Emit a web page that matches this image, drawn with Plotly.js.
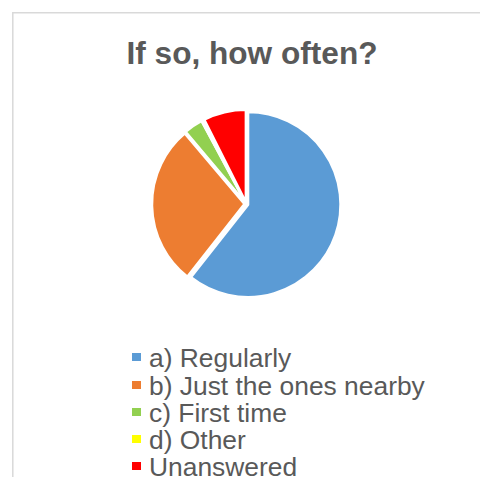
<!DOCTYPE html>
<html><head><meta charset="utf-8">
<script src="https://cdn.plot.ly/plotly-3.0.1.min.js"></script>
<style>html,body{margin:0;padding:0;background:#fff;overflow:hidden}#chart{width:480px;height:477px}</style>
</head><body><div id="chart"></div>
<script>
const categories = ['a) Regularly', 'b) Just the ones nearby', 'c) First time', 'd) Other', 'Unanswered'];
const percentValues = [60.3, 28.1, 3.3, 0.4, 7.4];
const sliceColors = ['#5B9BD5', '#ED7D31', '#92D050', '#FFFF00', '#FF0000'];
const chartTitle = 'If so, how often?';

const W = 480, H = 477;
const textColor = '#595959';
const fontFam = 'Liberation Sans, Arial, sans-serif';

const annotations = [];
categories.forEach(function (c, i) {
  const yc = 357.2 + 27.3 * i;
  annotations.push({
    xref: 'paper', yref: 'paper', x: 136 / W, y: 1 - yc / H,
    xanchor: 'center', yanchor: 'middle', text: ' ', showarrow: false,
    bgcolor: sliceColors[i], width: 9, height: 8, borderpad: 0, borderwidth: 0,
    font: {size: 6}
  });
  annotations.push({
    xref: 'paper', yref: 'paper', x: 149 / W, y: 1 - (yc + 1) / H,
    xanchor: 'left', yanchor: 'middle', text: c, showarrow: false,
    borderpad: 0, borderwidth: 0,
    font: {family: fontFam, size: 26.4, color: textColor}
  });
});

const trace = {
  type: 'pie',
  labels: categories,
  values: percentValues,
  sort: false,
  direction: 'clockwise',
  rotation: 0,
  pull: 0.02,
  textinfo: 'none',
  marker: {colors: sliceColors, line: {color: '#FFFFFF', width: 2.5}},
  domain: {x: [0.3166, 0.7097], y: [0.3745, 0.7701]},
  showlegend: false
};

const layout = {
  width: W, height: H,
  margin: {l: 0, r: 0, t: 0, b: 0},
  paper_bgcolor: '#FFFFFF',
  showlegend: false,
  title: {
    text: '<b>' + chartTitle + '</b>',
    font: {family: fontFam, size: 31.6, color: textColor},
    x: 252 / W, xanchor: 'center', xref: 'container',
    y: 1 - 52.8 / H, yanchor: 'middle', yref: 'container'
  },
  shapes: [{
    type: 'rect', xref: 'paper', yref: 'paper', layer: 'below',
    x0: 12.8 / W, x1: 1.05, y0: -0.05, y1: 1 - 12.8 / H,
    line: {color: '#D9D9D9', width: 1.5}, fillcolor: 'rgba(0,0,0,0)'
  }],
  annotations: annotations
};

Plotly.newPlot('chart', [trace], layout, {displayModeBar: false, staticPlot: true});
</script>
</body></html>
